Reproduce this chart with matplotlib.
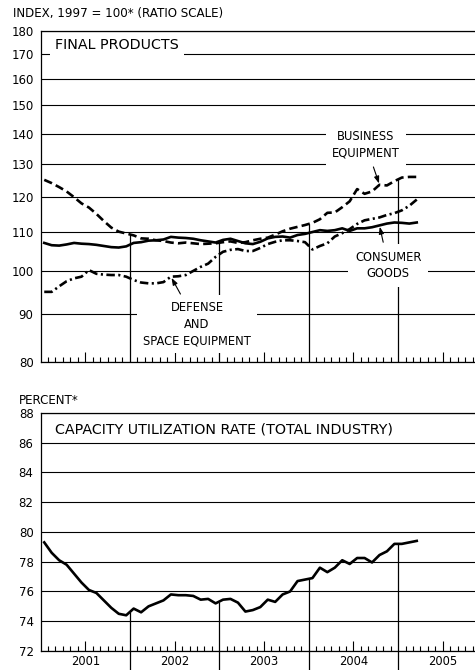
import numpy as np
import matplotlib
matplotlib.use("Agg")
import matplotlib.pyplot as plt
from matplotlib.ticker import FixedLocator, NullLocator

plt.rcParams["font.family"] = ["DejaVu Sans"]

# monthly data, Jan 2001 - Mar 2005
start_year = 2001
years = ["2001", "2002", "2003", "2004", "2005"]

business = [125.0, 124.0, 122.8, 121.5, 119.8, 118.0, 116.8, 115.0, 113.0, 111.2, 110.1, 109.6,
            109.1, 108.3, 108.2, 107.8, 107.6, 107.2, 107.0, 107.2, 107.0, 106.8, 106.9, 107.0,
            107.3, 107.5, 107.1, 107.3, 107.8, 108.2, 108.5, 109.3, 110.2, 110.9, 111.4, 111.9,
            112.5, 113.5, 115.3, 115.4, 116.9, 118.6, 122.2, 120.8, 121.5, 123.5, 123.3, 124.6,
            125.7, 125.9, 125.9]
consumer = [107.1, 106.5, 106.4, 106.7, 107.1, 106.9, 106.8, 106.6, 106.3, 106.0, 105.9, 106.2,
            107.1, 107.3, 107.7, 107.8, 108.0, 108.7, 108.5, 108.4, 108.2, 107.8, 107.5, 107.2,
            107.9, 108.2, 107.6, 107.0, 106.8, 107.4, 108.3, 108.7, 108.8, 108.5, 109.2, 109.5,
            110.0, 110.5, 110.3, 110.5, 111.0, 110.3, 111.0, 111.0, 111.3, 111.8, 112.3, 112.6,
            112.5, 112.3, 112.6]
defense = [95.0, 95.0, 96.3, 97.5, 98.2, 98.6, 100.2, 99.3, 99.1, 99.0, 99.0, 98.6,
           97.8, 97.2, 97.0, 97.0, 97.3, 98.6, 98.7, 99.0, 100.0, 101.0, 101.8, 103.5,
           104.8, 105.3, 105.5, 105.0, 105.0, 105.8, 106.8, 107.4, 107.8, 107.8, 107.6, 107.3,
           105.4, 106.3, 107.0, 108.8, 109.7, 110.8, 112.2, 113.2, 113.6, 114.0, 114.7, 115.2,
           116.0, 117.3, 119.1]
capacity = [79.3, 78.6, 78.1, 77.8, 77.2, 76.6, 76.1, 75.9, 75.4, 74.9, 74.5, 74.4,
            74.85, 74.6, 75.0, 75.2, 75.4, 75.8, 75.75, 75.75, 75.7, 75.45, 75.5, 75.2,
            75.45, 75.5, 75.25, 74.65, 74.75, 74.95, 75.45, 75.3, 75.8, 76.0, 76.7, 76.8,
            76.9, 77.6, 77.3, 77.6, 78.1, 77.85, 78.25, 78.25, 77.95, 78.45, 78.7, 79.2,
            79.2, 79.3, 79.4]

top_ticks = [80, 90, 100, 110, 120, 130, 140, 150, 160, 170, 180]
bot_ticks = [72, 74, 76, 78, 80, 82, 84, 86, 88]

x = start_year + (np.arange(len(capacity)) + 0.5) / 12
xmax = 2005.86
boundaries = [2002, 2003, 2004, 2005]

fig = plt.figure(figsize=(4.75, 6.7), dpi=100)
ax1 = fig.add_axes([0.0853, 0.4597, 0.9147, 0.494])
ax2 = fig.add_axes([0.0853, 0.0284, 0.9147, 0.3552])

lab_kw = dict(fontsize=8.3, ha="center", va="center", linespacing=1.35, zorder=3)


def style_axis(ax, show_years):
    ax.set_xlim(start_year, xmax)
    for s in ["right"]:
        ax.spines[s].set_visible(False)
    for s in ["left", "bottom", "top"]:
        ax.spines[s].set_linewidth(0.9)
        ax.spines[s].set_zorder(6)
    ax.set_axisbelow(True)
    ax.grid(axis="y", color="black", lw=0.8)
    ax.tick_params(axis="y", length=0, pad=5, labelsize=8.5)
    mids = [start_year + i + 0.5 for i in range(len(years))]
    ax.set_xticks(mids)
    ax.set_xticklabels(years if show_years else [])
    months = [start_year + k / 12 for k in range(1, 60)
              if k % 12 not in (0, 6) and start_year + k / 12 < xmax]
    ax.xaxis.set_minor_locator(FixedLocator(months))
    ax.tick_params(axis="x", which="major", direction="in", length=7, width=0.8,
                   labelsize=8.3, pad=3)
    ax.tick_params(axis="x", which="minor", direction="in", length=3.6, width=0.8)


# ---- top panel: final products ----
ax1.set_yscale("log")
ax1.set_ylim(80, 180)
ax1.yaxis.set_major_locator(FixedLocator(top_ticks))
ax1.yaxis.set_minor_locator(NullLocator())
ax1.set_yticklabels([str(v) for v in top_ticks])
style_axis(ax1, False)

ax1.plot(x, consumer, color="black", lw=1.9, zorder=4)
ax1.plot(x, business, color="black", lw=1.9, dashes=(3.2, 1.6), zorder=4)
ax1.plot(x, defense, color="black", lw=1.9, dashes=(3.2, 1.3, 0.8, 1.3), zorder=4)

for b in boundaries:
    top = max(np.interp(b, x, s) for s in (business, consumer, defense))
    ax1.vlines(b, 80, top, color="black", lw=0.9, zorder=2)

ax1.text(2001.162, 173.9, "FINAL PRODUCTS", fontsize=10.3, ha="left", va="center",
         zorder=3, bbox=dict(boxstyle="square,pad=0.35", fc="white", ec="none"))

arrow = dict(arrowstyle="-|>,head_length=0.5,head_width=0.18", color="black", lw=0.8,
             shrinkA=1, shrinkB=1)
ax1.annotate("BUSINESS\nEQUIPMENT", xy=(x[45], business[45]), xytext=(2004.64, 136.1),
             arrowprops=arrow, bbox=dict(boxstyle="square,pad=0.5", fc="white", ec="none"),
             **lab_kw)
ax1.annotate("CONSUMER\nGOODS", xy=(x[45], consumer[45]), xytext=(2004.89, 101.4),
             arrowprops=arrow, bbox=dict(boxstyle="square,pad=0.6", fc="white", ec="none"),
             **lab_kw)
ax1.annotate("DEFENSE\nAND\nSPACE EQUIPMENT", xy=(x[17], defense[17]), xytext=(2002.75, 87.8),
             arrowprops=arrow, bbox=dict(boxstyle="square,pad=0.5", fc="white", ec="none"),
             **lab_kw)

fig.text(13 / 475, 1 - 14 / 670, "INDEX, 1997 = 100* (RATIO SCALE)", fontsize=8.6,
         ha="left", va="center")

# ---- bottom panel: capacity utilization ----
ax2.set_ylim(72, 88)
ax2.set_yticks(bot_ticks)
ax2.set_yticklabels([str(v) for v in bot_ticks])
style_axis(ax2, True)

ax2.plot(x, capacity, color="black", lw=1.9, zorder=4)
for b in boundaries:
    ax2.vlines(b, 70.7, np.interp(b, x, capacity), color="black", lw=0.9,
               zorder=2, clip_on=False)

ax2.text(2001.162, 86.86, "CAPACITY UTILIZATION RATE (TOTAL INDUSTRY)", fontsize=10.3,
         ha="left", va="center", zorder=3)
fig.text(19 / 475, 1 - 401 / 670, "PERCENT*", fontsize=8.6, ha="left", va="center")

fig.savefig("out.png", dpi=100)
